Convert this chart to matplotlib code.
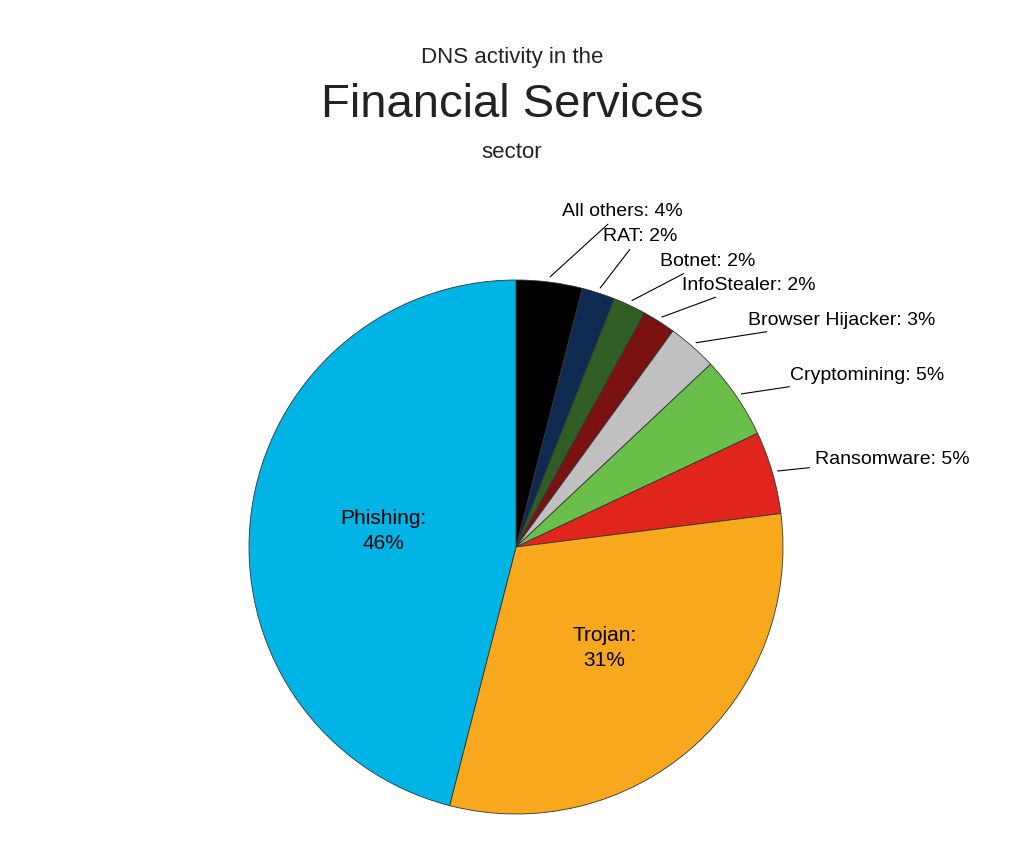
import matplotlib.pyplot as plt
import numpy as np

labels = ["All others", "RAT", "Botnet", "InfoStealer", "Browser Hijacker",
          "Cryptomining", "Ransomware", "Trojan", "Phishing"]
values = [4, 2, 2, 2, 3, 5, 5, 31, 46]
colors = ["#000000", "#0e2a50", "#2f5d24", "#7a1212", "#c0c0c0",
          "#6abf4b", "#e0261c", "#f8a81c", "#00b5e6"]
# text anchor positions for the outside labels (pixels in the 1024x853 image)
label_px = [(562, 212), (603, 237), (660, 262), (682, 286), (748, 321),
            (790, 376), (815, 460)]

plt.rcParams['font.family'] = ['Liberation Sans', 'DejaVu Sans']
fig = plt.figure(figsize=(10.24, 8.53), dpi=100)
cx, cy, r = 516, 548, 267
ax = fig.add_axes([(cx - r) / 1024, (853 - cy - r) / 853, 2 * r / 1024, 2 * r / 853])
wedges, _ = ax.pie(values, colors=colors, startangle=90, counterclock=False,
                   wedgeprops=dict(edgecolor="#333333", linewidth=0.6))
ax.set_xlim(-1, 1)
ax.set_ylim(-1, 1)
ax.axis("off")

def to_data(px, py):
    return (px - cx) / r, (cy - py) / r

for w, lab, v, (px, py) in zip(wedges, labels, values, label_px):
    ang = np.deg2rad((w.theta1 + w.theta2) / 2)
    xy = (1.02 * np.cos(ang), 1.02 * np.sin(ang))
    ax.annotate(f"{lab}: {v}%", xy=xy, xytext=to_data(px, py), ha="left", va="center",
                fontsize=14, annotation_clip=False,
                arrowprops=dict(arrowstyle="-", color="black", lw=0.8, shrinkA=2, shrinkB=0))

for w, lab, v in zip(wedges[-2:], labels[-2:], values[-2:]):
    ang = np.deg2rad((w.theta1 + w.theta2) / 2)
    ax.text(0.5 * np.cos(ang), 0.5 * np.sin(ang), f"{lab}:\n{v}%", ha="center",
            va="center", fontsize=15, linespacing=1.4)

fig.text(512 / 1024, 1 - 57 / 853, "DNS activity in the", ha="center", va="center",
         fontsize=16, color="#222222")
fig.text(512 / 1024, 1 - 105 / 853, "Financial Services", ha="center", va="center",
         fontsize=34, color="#222222")
fig.text(512 / 1024, 1 - 152 / 853, "sector", ha="center", va="center",
         fontsize=16, color="#222222")

fig.savefig("out.png", dpi=100)
